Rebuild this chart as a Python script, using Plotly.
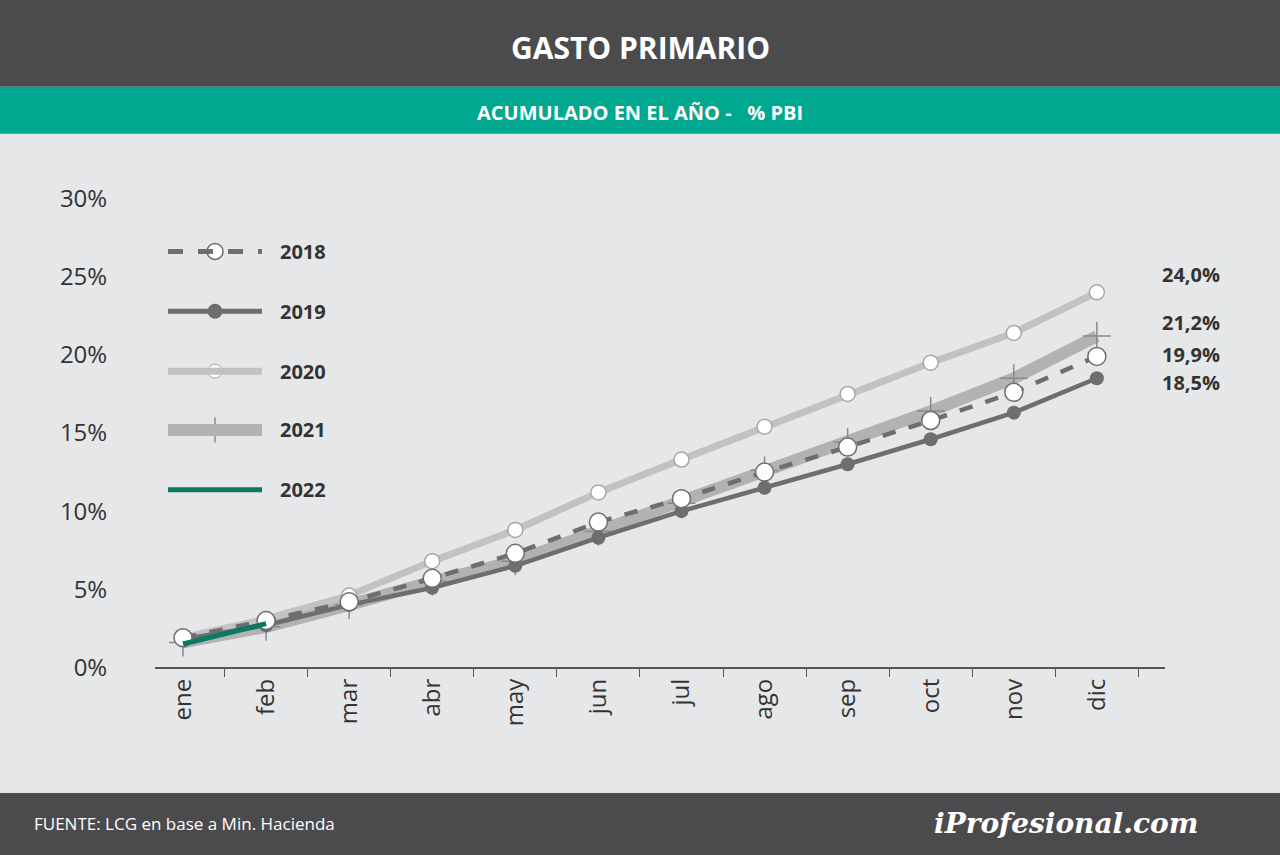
import plotly.graph_objects as go

months = ["ene","feb","mar","abr","may","jun","jul","ago","sep","oct","nov","dic"]
v2018 = [1.9, 3.0, 4.2, 5.7, 7.3, 9.3, 10.8, 12.5, 14.1, 15.8, 17.6, 19.9]
v2019 = [1.8, 2.7, 4.0, 5.1, 6.5, 8.3, 10.0, 11.5, 13.0, 14.6, 16.3, 18.5]
v2020 = [1.9, 3.1, 4.6, 6.8, 8.8, 11.2, 13.3, 15.4, 17.5, 19.5, 21.4, 24.0]
v2021 = [1.6, 2.6, 4.0, 5.5, 6.8, 8.7, 10.5, 12.6, 14.4, 16.4, 18.5, 21.2]
v2022 = [1.5, 2.8]
yticks = [0, 5, 10, 15, 20, 25, 30]

TOP, H = 16, 824
def py(p):
    return 1 - (p - TOP) / H

fig = go.Figure()
fig.add_trace(go.Scatter(x=months, y=v2021, mode="lines+markers",
    line=dict(color="#b3b2b2", width=12),
    marker=dict(symbol="cross-thin", size=20, line=dict(color="#8a8a8a", width=1.5))))
fig.add_trace(go.Scatter(x=months, y=v2020, mode="lines+markers",
    line=dict(color="#c2c2c2", width=7),
    marker=dict(size=15, color="white", line=dict(color="#a8a8a8", width=1.5))))
fig.add_trace(go.Scatter(x=months, y=v2019, mode="lines+markers",
    line=dict(color="#6d6e70", width=4.5),
    marker=dict(size=14, color="#6d6e70")))
fig.add_trace(go.Scatter(x=months, y=v2018, mode="lines+markers",
    line=dict(color="#6d6e70", width=4.5, dash="dash"),
    marker=dict(size=18, color="white", line=dict(color="#6d6e70", width=1.5))))
fig.add_trace(go.Scatter(x=months[:len(v2022)], y=v2022, mode="lines",
    line=dict(color="#0b7a63", width=5)))

ends = [(v2020[-1], 18), (v2021[-1], 14), (v2018[-1], 2), (v2019[-1], -4)]
for val, sh in ends:
    fig.add_annotation(x=1160/1280, xref="paper", y=val, yref="y", yshift=sh, yanchor="middle",
        text=(f"<b>{val:.1f}%</b>").replace(".", ","), showarrow=False, xanchor="left",
        font=dict(size=20, color="#333", family="Open Sans"))

leg = [("2018", dict(color="#6d6e70", width=5, dash="dash"), dict(size=16, color="white", line=dict(color="#6d6e70", width=1.5), symbol="circle")),
       ("2019", dict(color="#6d6e70", width=5), dict(size=15, color="#6d6e70", symbol="circle")),
       ("2020", dict(color="#c2c2c2", width=7), dict(size=14, color="white", line=dict(color="#a8a8a8", width=1), symbol="circle")),
       ("2021", dict(color="#b3b2b2", width=12), dict(size=18, symbol="cross-thin", color="#8a8a8a", line=dict(color="#8a8a8a", width=1.5))),
       ("2022", dict(color="#0b7a63", width=5), None)]
for (name, ln, mk), yp in zip(leg, [250, 310, 370, 429, 489]):
    yy = py(yp)
    fig.add_shape(type="line", xref="paper", yref="paper", x0=168/1280, x1=262/1280, y0=yy, y1=yy,
                  line=ln, layer="above")
    if mk:
        fig.add_trace(go.Scatter(x=[(168+262)/2/1280], y=[yy], xaxis="x2", yaxis="y2", mode="markers",
                                 marker=mk, hoverinfo="skip"))
    fig.add_annotation(xref="paper", yref="paper", x=278/1280, y=yy, yanchor="middle", text=f"<b>{name}</b>",
                       showarrow=False, xanchor="left", font=dict(size=20, color="#333", family="Open Sans"))

fig.add_shape(type="rect", xref="paper", yref="paper", x0=0, x1=1, y0=py(85), y1=1.05, fillcolor="#4b4b4d", line_width=0, layer="below")
fig.add_shape(type="rect", xref="paper", yref="paper", x0=0, x1=1, y0=py(132), y1=py(85), fillcolor="#00a88f", line_width=0, layer="below")
fig.add_shape(type="rect", xref="paper", yref="paper", x0=0, x1=1, y0=-0.05, y1=py(793), fillcolor="#4b4b4d", line_width=0, layer="below")
fig.add_annotation(xref="paper", yref="paper", x=0.5, y=py(46), yanchor="middle", text="<b>GASTO PRIMARIO</b>", showarrow=False,
                   font=dict(size=30, color="white", family="Open Sans"))
fig.add_annotation(xref="paper", yref="paper", x=0.5, y=py(111), yanchor="middle", text="<b>ACUMULADO EN EL AÑO -   % PBI</b>", showarrow=False,
                   font=dict(size=20, color="white", family="Open Sans"))
fig.add_annotation(xref="paper", yref="paper", x=32/1280, y=py(823), yanchor="middle", text="FUENTE: LCG en base a Min. Hacienda", showarrow=False,
                   xanchor="left", font=dict(size=17, color="white", family="Open Sans"))
fig.add_annotation(xref="paper", yref="paper", x=1200/1280, y=py(823), yanchor="middle", text="<b><i>iProfesional.com</i></b>", showarrow=False,
                   xanchor="right", font=dict(size=28, color="white", family="DejaVu Serif"))

fig.update_layout(
    autosize=True, paper_bgcolor="#e6e7e8", plot_bgcolor="rgba(0,0,0,0)",
    margin=dict(l=0, r=0, t=0, b=0), showlegend=False,
    xaxis=dict(domain=[155/1280, 1165/1280], range=[-0.337, 11.82], showgrid=False, showline=True,
               linecolor="#555", linewidth=1.5, ticks="outside", tickson="boundaries", ticklen=8,
               tickcolor="#555", tickangle=-90, tickfont=dict(size=24, color="#333", family="Open Sans")),
    yaxis=dict(domain=[py(667), py(197)], range=[0, 30], tickvals=yticks,
               ticktext=[f"{t}%" for t in yticks], showgrid=False, zeroline=False, showline=False,
               ticks="outside", ticklen=42, tickcolor="rgba(0,0,0,0)",
               tickfont=dict(size=24, color="#333", family="Open Sans")),
    xaxis2=dict(domain=[0, 1], range=[0, 1], visible=False, anchor="y2"),
    yaxis2=dict(domain=[0, 1], range=[0, 1], visible=False, anchor="x2"),
)
fig.write_html("out.html", default_width="100vw", default_height="100vh",
               config={"displayModeBar": False},
               post_script="document.body.style.margin='0';document.body.style.overflow='hidden';document.body.style.background='#4b4b4d';document.documentElement.style.background='#4b4b4d';")
